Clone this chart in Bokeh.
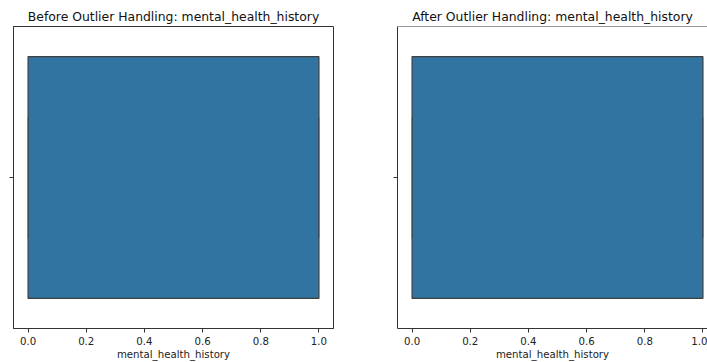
from bokeh.plotting import figure
from bokeh.layouts import row
from bokeh.models import Range1d, FixedTicker, Span
from bokeh.embed import file_html
from bokeh.resources import INLINE

# ---- data ----
titles = ["Before Outlier Handling: mental_health_history",
          "After Outlier Handling: mental_health_history"]
x_label = "mental_health_history"
q1 = [0.0, 0.0]
q3 = [1.0, 1.0]
whisker_lo = [0.0, 0.0]
whisker_hi = [1.0, 1.0]
x_ticks = [0.0, 0.2, 0.4, 0.6, 0.8, 1.0]
tick_labels = ["0.0", "0.2", "0.4", "0.6", "0.8", "1.0"]

BOX_COLOR = "#3274a1"
EDGE = "#3f3f3f"
FONT = "DejaVu Sans"
HEIGHT = 362


def make_panel(i, width, mb_left, mb_right, x_end, title_offset=0, outline=True):
    p = figure(width=width, height=HEIGHT, output_backend="svg", toolbar_location=None,
               x_range=Range1d(-0.05, x_end), y_range=Range1d(0.5, -0.5),
               min_border_left=mb_left, min_border_right=mb_right,
               min_border_top=26, min_border_bottom=10)
    p.title.text = titles[i]
    p.title.align = "center"
    p.title.text_font = FONT
    p.title.text_font_size = "12.4px"
    p.title.text_font_style = "normal"
    p.title.text_color = "#111111"
    p.title.standoff = 5
    p.title.offset = title_offset
    p.grid.visible = False
    p.background_fill_color = "white"
    p.border_fill_color = "white"
    if outline:
        p.outline_line_color = "#333333"
        p.outline_line_width = 1
    else:
        p.outline_line_color = None
        p.add_layout(Span(location=-0.5, dimension="width", line_color="#333333", line_width=1))

    # x axis
    xa = p.xaxis[0]
    xa.ticker = FixedTicker(ticks=x_ticks)
    xa.major_label_overrides = {t: l for t, l in zip(x_ticks, tick_labels)}
    xa.minor_tick_line_color = None
    xa.major_tick_in = 0
    xa.major_tick_out = 4
    xa.major_label_standoff = 4
    xa.major_label_text_font = FONT
    xa.major_label_text_font_size = "10.2px"
    xa.major_label_text_color = "#222222"
    xa.axis_label = x_label
    xa.axis_label_text_font = FONT
    xa.axis_label_text_font_size = "10.2px"
    xa.axis_label_text_font_style = "normal"
    xa.axis_label_text_color = "#222222"
    xa.axis_label_standoff = 1
    xa.axis_line_color = "#333333"
    xa.major_tick_line_color = "#333333"

    # y axis: single unlabeled tick at the category
    ya = p.yaxis[0]
    ya.ticker = FixedTicker(ticks=[0])
    ya.minor_tick_line_color = None
    ya.major_tick_in = 0
    ya.major_tick_out = 4
    ya.major_label_standoff = 0
    ya.major_label_text_font_size = "6px"
    ya.major_label_text_color = None
    ya.axis_line_color = "#333333"
    ya.major_tick_line_color = "#333333"

    # box
    p.quad(left=[q1[i]], right=[q3[i]], bottom=[-0.4], top=[0.4],
           fill_color=BOX_COLOR, line_color=EDGE, line_width=1.2)
    # whiskers (zero length here) and caps
    p.segment(x0=[whisker_lo[i], q3[i]], y0=[0, 0], x1=[q1[i], whisker_hi[i]], y1=[0, 0],
              line_color=EDGE, line_width=1.2)
    p.segment(x0=[whisker_lo[i], whisker_hi[i]], y0=[-0.2, -0.2],
              x1=[whisker_lo[i], whisker_hi[i]], y1=[0.2, 0.2],
              line_color=EDGE, line_width=0.8, line_alpha=0.6)
    return p


p1 = make_panel(0, 363, 13, 30, 1.05)
p2 = make_panel(1, 344, 34, 0, -0.05 + 1.1 * 310 / 320, title_offset=4, outline=False)

layout = row(p1, p2, spacing=0)
open("out.html", "w").write(file_html(layout, INLINE))
